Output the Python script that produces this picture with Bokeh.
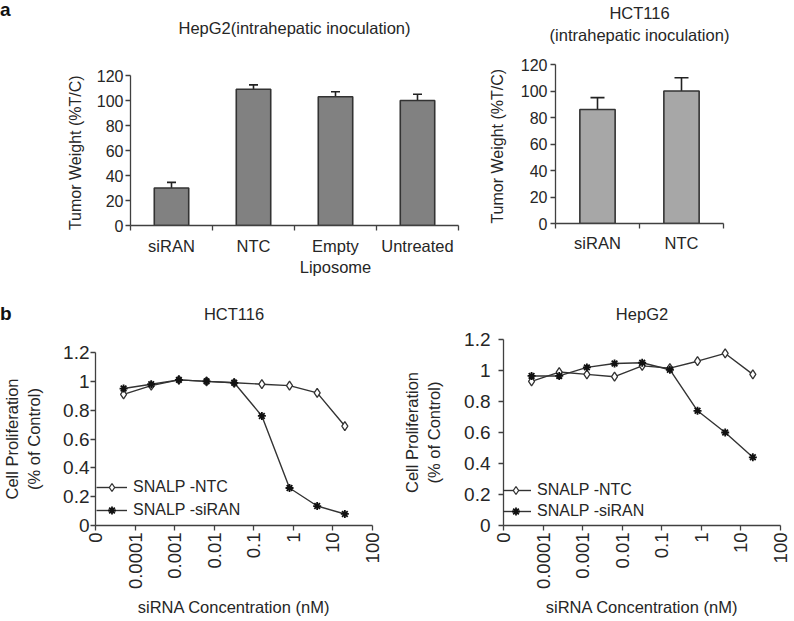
import math
from bokeh.plotting import figure
from bokeh.models import (Range1d, LinearAxis, FixedTicker, Whisker, TeeHead,
                          ColumnDataSource, Legend, LegendItem, Div)
from bokeh.layouts import row, column
from bokeh.embed import file_html
from bokeh.resources import INLINE

FONT = "Liberation Sans"
TXT = "#262626"
AX = "#404040"

# ---------------- data ----------------
hep_cats = ["siRAN", "NTC", "Empty\nLiposome", "Untreated"]
hep_weight = [30, 109, 103, 100]
hep_err = [4.5, 3.5, 4, 5]

hct_cats = ["siRAN", "NTC"]
hct_weight = [86, 100]
hct_err = [9, 10]

bar_ticks = [0, 20, 40, 60, 80, 100, 120]

conc = [0.0000512, 0.000256, 0.00128, 0.0064, 0.032, 0.16, 0.8, 4, 20]
hct_ntc = [0.91, 0.97, 1.01, 1.00, 0.99, 0.98, 0.97, 0.92, 0.69]
hct_siran = [0.95, 0.98, 1.01, 1.00, 0.99, 0.76, 0.26, 0.135, 0.08]
hep_ntc = [0.93, 0.99, 0.975, 0.96, 1.03, 1.015, 1.06, 1.11, 0.975]
hep_siran = [0.965, 0.965, 1.02, 1.045, 1.05, 1.005, 0.74, 0.60, 0.44]

log_ticks = [1e-5, 1e-4, 1e-3, 1e-2, 1e-1, 1, 10, 100]
log_tick_labels = ["0", "0.0001", "0.001", "0.01", "0.1", "1", "10", "100"]
prolif_ticks = [0, 0.2, 0.4, 0.6, 0.8, 1.0, 1.2]
prolif_labels = ["0", "0.2", "0.4", "0.6", "0.8", "1", "1.2"]


def style_axis(ax, tick_size, label_size="16.5px"):
    ax.major_label_text_font = FONT
    ax.major_label_text_font_size = tick_size
    ax.major_label_text_color = TXT
    ax.axis_label_text_font = FONT
    ax.axis_label_text_font_size = label_size
    ax.axis_label_text_font_style = "normal"
    ax.axis_label_text_color = TXT
    ax.axis_line_color = AX
    ax.axis_line_width = 1.3
    ax.major_tick_line_color = AX
    ax.major_tick_line_width = 1.3
    ax.major_tick_in = 0
    ax.major_tick_out = 5
    ax.minor_tick_line_color = None
    ax.minor_tick_in = 0
    ax.minor_tick_out = 0


def base_style(p):
    p.outline_line_color = None
    p.xgrid.visible = False
    p.ygrid.visible = False
    p.background_fill_color = "white"
    p.border_fill_color = "white"


def add_title(p, text, standoff):
    """Panel title drawn as the label of a bare axis above the frame."""
    ax = LinearAxis(ticker=FixedTicker(ticks=[]))
    style_axis(ax, "1px", "16.5px")
    ax.axis_line_color = None
    ax.major_tick_line_color = None
    ax.major_tick_out = 0
    ax.major_label_standoff = 0
    ax.axis_label = text
    ax.axis_label_standoff = standoff
    p.add_layout(ax, "above")


def bar_panel(cats, vals, errs, fill, w, h, bl, br, bt, bb, head, ylab_standoff,
              cat_standoff, tick_standoff):
    n = len(cats)
    centers = [i + 0.5 for i in range(n)]
    p = figure(x_range=Range1d(0, n), y_range=Range1d(0, 120), width=w, height=h,
               output_backend="svg", toolbar_location=None, x_axis_location=None,
               min_border_left=bl, min_border_right=br, min_border_top=bt, min_border_bottom=bb,
               frame_align=False)
    base_style(p)
    # axis line with ticks between categories
    tick_axis = LinearAxis(ticker=FixedTicker(ticks=list(range(n + 1))))
    style_axis(tick_axis, "1px")
    tick_axis.major_label_text_alpha = 0
    tick_axis.major_label_standoff = 0
    p.add_layout(tick_axis, "below")
    # category names at bar centres
    cat_axis = LinearAxis(ticker=FixedTicker(ticks=centers))
    style_axis(cat_axis, "16.5px")
    cat_axis.axis_line_color = None
    cat_axis.major_tick_line_color = None
    cat_axis.major_tick_out = 0
    cat_axis.major_label_standoff = cat_standoff
    cat_axis.major_label_overrides = dict(zip(centers, cats))
    p.add_layout(cat_axis, "below")

    style_axis(p.yaxis[0], "16px", "16px")
    p.yaxis.ticker = FixedTicker(ticks=bar_ticks)
    p.yaxis.axis_label = "Tumor Weight  (%T/C)"
    p.yaxis.axis_label_standoff = ylab_standoff
    p.yaxis.major_label_standoff = tick_standoff

    src = ColumnDataSource(dict(x=centers, top=vals,
                                upper=[v + e for v, e in zip(vals, errs)],
                                lower=[v - e for v, e in zip(vals, errs)]))
    p.vbar(x="x", top="top", width=0.42, source=src, fill_color=fill,
           line_color="#333333", line_width=1.6)
    wh = Whisker(base="x", upper="upper", lower="lower", source=src,
                 line_color="#222222", line_width=1.6,
                 upper_head=TeeHead(size=head, line_color="#222222", line_width=1.6),
                 lower_head=TeeHead(size=head, line_color="#222222", line_width=1.6))
    p.add_layout(wh)
    return p


def line_panel(ntc, sir, w, h, bl, br, bt, bb, ylab_standoff, tick_standoff,
               leg_loc, leg_spacing):
    p = figure(x_axis_type="log", x_range=Range1d(1e-5, 100), y_range=Range1d(0, 1.2),
               width=w, height=h, output_backend="svg", toolbar_location=None,
               min_border_left=bl, min_border_right=br, min_border_top=bt, min_border_bottom=bb,
               frame_align=False)
    base_style(p)
    style_axis(p.xaxis[0], "18.5px")
    style_axis(p.yaxis[0], "19px")
    p.xaxis.ticker = FixedTicker(ticks=log_ticks)
    p.xaxis.major_label_overrides = dict(zip(log_ticks, log_tick_labels))
    p.xaxis.major_label_orientation = math.pi / 2
    p.xaxis.major_label_standoff = 2
    p.xaxis.axis_label = "siRNA Concentration (nM)"
    p.xaxis.axis_label_standoff = 6
    p.yaxis.ticker = FixedTicker(ticks=prolif_ticks)
    p.yaxis.major_label_overrides = dict(zip(prolif_ticks, prolif_labels))
    p.yaxis.major_label_standoff = tick_standoff
    p.yaxis.axis_label = "Cell Proliferation\n(% of Control)"
    p.yaxis.axis_label_standoff = ylab_standoff

    col = "#333333"
    l1 = p.line(conc, ntc, line_color=col, line_width=1.4)
    s1 = p.scatter(conc, ntc, marker="diamond", size=9, fill_color="white",
                   line_color=col, line_width=1.3)
    l2 = p.line(conc, sir, line_color=col, line_width=1.4)
    s2 = p.scatter(conc, sir, marker="asterisk", size=8, line_color="#111111", line_width=1.8)
    leg = Legend(items=[LegendItem(label="SNALP -NTC", renderers=[l1, s1]),
                        LegendItem(label="SNALP -siRAN", renderers=[l2, s2])],
                 location=leg_loc, spacing=leg_spacing, padding=0, margin=0,
                 glyph_width=31, label_standoff=6,
                 label_text_font=FONT, label_text_font_size="16px", label_text_color=TXT,
                 background_fill_alpha=0, border_line_color=None)
    p.add_layout(leg, "center")
    return p


# top row: 295 px tall, bottom row: 324 px tall
a1 = bar_panel(hep_cats, hep_weight, hep_err, "#818181",
               460, 295, 130, 2, 75, 70, 9, 10, 6, 2)
a2 = bar_panel(hct_cats, hct_weight, hct_err, "#a7a7a7",
               332, 295, 95, 69, 64, 72, 14, 12, 5, 3)
b1 = line_panel(hct_ntc, hct_siran, 400, 324, 87, 28, 57, 91, 17, 1, (1, 5), 3)
b2 = line_panel(hep_ntc, hep_siran, 392, 324, 97, 12, 44, 90, 18, 8, (-3, 4), 1)

add_title(a1, "HepG2(intrahepatic inoculation)", 39)
add_title(a2, "HCT116\n(intrahepatic inoculation)", 21)
add_title(b1, "HCT116", 30)
add_title(b2, "HepG2", 17)


def panel_letter(letter, top):
    # bold panel letter overlaid on the top-left corner of the following row
    return Div(text=letter, width=16, height=20, margin=(top, 0, -(20 + top), 0),
               styles={"font-family": FONT, "font-size": "19px", "font-weight": "bold",
                       "line-height": "1", "color": "#111111", "position": "relative",
                       "z-index": "10", "padding": "0px"})


layout = column(panel_letter("a", 0), row(a1, a2), panel_letter("b", 9), row(b1, b2))
open("out.html", "w").write(file_html(layout, INLINE))
